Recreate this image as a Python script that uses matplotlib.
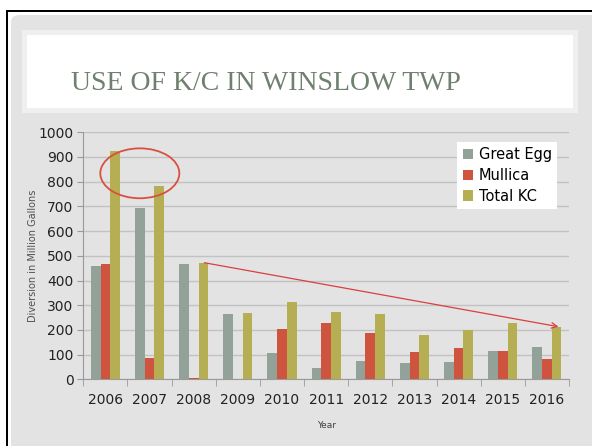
import matplotlib
matplotlib.use("Agg")
import matplotlib.pyplot as plt
import numpy as np
from matplotlib.patches import Rectangle, FancyBboxPatch, Ellipse

years = ["2006", "2007", "2008", "2009", "2010", "2011", "2012", "2013", "2014", "2015", "2016"]
great_egg = [460, 692, 467, 266, 107, 46, 76, 67, 70, 113, 132]
mullica = [467, 88, 7, 0, 204, 227, 189, 109, 127, 116, 81]
total_kc = [926, 781, 472, 267, 313, 273, 265, 178, 198, 229, 213]
series_names = ["Great Egg", "Mullica", "Total KC"]
title_text = "USE OF K/C IN WINSLOW TWP"
x_label = "Year"
y_label = "Diversion in Million Gallons"
y_ticks = [0, 100, 200, 300, 400, 500, 600, 700, 800, 900, 1000]

W, H = 592, 446
fig = plt.figure(figsize=(W / 100, H / 100), dpi=100)
fig.patch.set_facecolor("white")

def px(x0, y0, w, h):
    return (x0 / W, 1 - (y0 + h) / H, w / W, h / H)

def add_rect(x0, y0, w, h, color, z):
    r = Rectangle((x0 / W, 1 - (y0 + h) / H), w / W, h / H, transform=fig.transFigure,
                  facecolor=color, edgecolor="none", zorder=z)
    fig.patches.append(r)

# outer black frame lines
add_rect(6, 10, 2, 440, "black", -5)
add_rect(6, 10, 590, 2, "black", -5)
# gray panel
fig.patches.append(FancyBboxPatch((11 / W, -0.02), 1.05 - 11 / W, 1 - 15 / H + 0.02,
                                  boxstyle="round,pad=0,rounding_size=0.015",
                                  transform=fig.transFigure, facecolor="#e3e3e3",
                                  edgecolor="none", zorder=-4))
# title box frame and white box
add_rect(22, 30, 556, 83, "#efefef", -3)
add_rect(27, 35, 546, 73, "white", -2)
fig.text(266 / W, 1 - 90 / H, title_text, ha="center", va="baseline",
         fontsize=20, color="#6f8070", family="Liberation Serif")

ax = fig.add_axes(px(83.3, 132.3, 485.7, 247))
ax.set_facecolor("none")
ax.set_zorder(2)

colors = ["#93a299", "#cf543f", "#b5ae53"]
x = np.arange(len(years))
bw = 0.22
for i, (vals, name, c) in enumerate(zip([great_egg, mullica, total_kc], series_names, colors)):
    ax.bar(x + (i - 1) * bw, vals, width=bw, color=c, label=name, zorder=3)

ax.set_xlim(-0.5, len(years) - 0.5)
ax.set_ylim(0, 1000)
ax.set_yticks(y_ticks)
ax.set_yticklabels([str(t) for t in y_ticks])
ax.yaxis.grid(True, color="#c2c2c2", linewidth=1, zorder=0)
ax.set_axisbelow(True)

ax.set_xticks(x)
ax.set_xticklabels(years)
ax.set_xticks(np.arange(-0.5, len(years)), minor=True)
ax.tick_params(axis="x", which="major", length=0, pad=10, labelsize=10, colors="#222222")
ax.tick_params(axis="x", which="minor", length=5, color="#9a9a9a")
ax.tick_params(axis="y", length=4, color="#9a9a9a", labelsize=10, labelcolor="#222222", pad=3)
for s in ["top", "right"]:
    ax.spines[s].set_visible(False)
ax.spines["left"].set_color("#9a9a9a")
ax.spines["bottom"].set_color("#9a9a9a")

ax.set_xlabel(x_label, fontsize=6.5, color="#404040", labelpad=10)
ax.set_ylabel(y_label, fontsize=7, color="#505050", labelpad=0)

leg = ax.legend(loc="upper right", bbox_to_anchor=(0.975, 0.961), frameon=True, fontsize=10.5,
                handlelength=0.7, handleheight=0.7, handletextpad=0.4, labelspacing=0.4,
                borderpad=0.35, borderaxespad=0, fancybox=False)
leg.get_frame().set_facecolor("white")
leg.get_frame().set_edgecolor("none")
leg.get_frame().set_alpha(1)

# annotations: ellipse around 2006-2007 totals, arrow from 2008 total to 2016 total
ell = Ellipse((0.78, 834), 1.79, 202, fill=False, edgecolor="#d9503f", linewidth=1.3, zorder=5)
ax.add_patch(ell)
ax.annotate("", xy=(10 + 0.26, total_kc[10]), xytext=(2 + 0.24, total_kc[2]),
            arrowprops=dict(arrowstyle="->", color="#d9403f", lw=0.9, shrinkA=0, shrinkB=0),
            zorder=6)

fig.savefig("out.png", dpi=100)
